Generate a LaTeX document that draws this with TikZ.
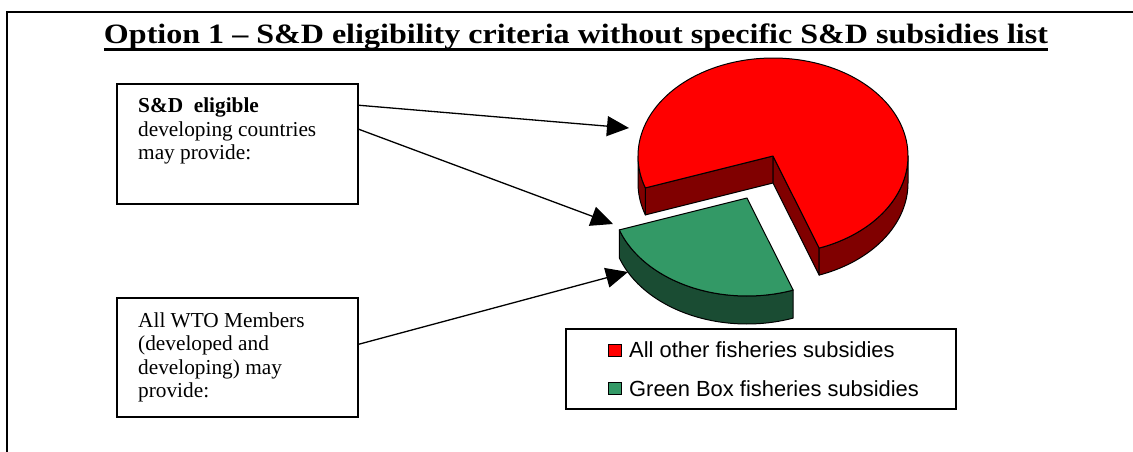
\documentclass[tikz,border=0pt]{standalone}
\usepackage{fontspec}
\setmainfont{Liberation Serif}
\newfontfamily\arialf{Liberation Sans}
\usetikzlibrary{arrows.meta}
\definecolor{pred}{HTML}{FF0000}
\definecolor{pdred}{HTML}{800000}
\definecolor{pgreen}{HTML}{339966}
\definecolor{pdgreen}{HTML}{1A4C33}
\begin{document}
\begin{tikzpicture}[x=1pt,y=-1pt,
  box/.style={draw=black, line width=1.5pt, fill=white, inner sep=0pt},
  txt/.style={anchor=base west, inner sep=0pt, font=\fontsize{21.3}{23.5}\selectfont},
  legtxt/.style={anchor=base west, inner sep=0pt, font=\arialf\fontsize{21.9}{24}\selectfont},
  sq/.style={draw=black, line width=1pt, minimum width=13pt, minimum height=12pt, inner sep=0pt},
  arr/.style={line width=1.3pt, -{Triangle[length=22pt,width=20pt]}},
  face/.style={draw=black, line width=1pt, line join=round}]
\useasboundingbox (0,0) rectangle (1133,452);
\fill[white] (0,0) rectangle (1133,452);
% outer frame
\draw[line width=2pt] (7,452) -- (7,12) -- (1133,12);
% title
\node[font=\bfseries\fontsize{28}{30}\selectfont, anchor=base, inner sep=0pt, xscale=1.145] (title) at (576,44)
  {Option 1 – S\&D eligibility criteria without specific S\&D subsidies list};
\draw[line width=3pt] ([yshift=-6pt]title.base west) -- ([yshift=-6pt]title.base east);
% boxes
\node[box, minimum width=241pt, minimum height=120pt] (b1) at (237.5,144) {};
\node[box, minimum width=241pt, minimum height=119pt] (b2) at (237.5,357.5) {};
\node[txt] (t1a) at (138,112) {\textbf{S\&D\ \ eligible}};
\node[txt] (t1b) at (138,136) {developing countries};
\node[txt] (t1c) at (138,159) {may provide:};
\node[txt] (t2a) at (138,327) {All WTO Members};
\node[txt] (t2b) at (138,350.5) {(developed and};
\node[txt] (t2c) at (138,374) {developing) may};
\node[txt] (t2d) at (138,397.5) {provide:};
% pie: red part
\def\rcx{773}\def\rcy{156}\def\rdep{27}
\filldraw[face, fill=pdred] (\rcx,\rcy) -- ({\rcx+135*cos(199)},{\rcy-98*sin(199)}) -- ++(0,\rdep) -- (\rcx,\rcy+\rdep) -- cycle;
\filldraw[face, fill=pdred] (\rcx,\rcy) -- ({\rcx+135*cos(-70)},{\rcy-98*sin(-70)}) -- ++(0,\rdep) -- (\rcx,\rcy+\rdep) -- cycle;
\filldraw[face, fill=pdred] plot[domain=-70:0, samples=40] ({\rcx+135*cos(\x)},{\rcy-98*sin(\x)})
  -- plot[domain=0:-70, samples=40] ({\rcx+135*cos(\x)},{\rcy+\rdep-98*sin(\x)}) -- cycle;
\filldraw[face, fill=pdred] plot[domain=180:199, samples=15] ({\rcx+135*cos(\x)},{\rcy-98*sin(\x)})
  -- plot[domain=199:180, samples=15] ({\rcx+135*cos(\x)},{\rcy+\rdep-98*sin(\x)}) -- cycle;
\filldraw[face, fill=pred] (\rcx,\rcy) -- plot[domain=-70:199, samples=120] ({\rcx+135*cos(\x)},{\rcy-98*sin(\x)}) -- cycle;
% pie: green part
\def\gcx{747}\def\gcy{198}\def\gdep{28}
\filldraw[face, fill=pdgreen] plot[domain=199:290, samples=60] ({\gcx+135*cos(\x)},{\gcy-98*sin(\x)})
  -- plot[domain=290:199, samples=60] ({\gcx+135*cos(\x)},{\gcy+\gdep-98*sin(\x)}) -- cycle;
\filldraw[face, fill=pgreen] (\gcx,\gcy) -- plot[domain=199:290, samples=60] ({\gcx+135*cos(\x)},{\gcy-98*sin(\x)}) -- cycle;
% arrow targets
\coordinate (a1) at (629,128);
\coordinate (a2) at (613,224);
\coordinate (a3) at (628,272);
\draw[arr] ([yshift=-22pt]b1.north east) -- (a1);
\draw[arr] ([yshift=-46pt]b1.north east) -- (a2);
\draw[arr] ([yshift=-47pt]b2.north east) -- (a3);
% legend
\node[box, minimum width=390pt, minimum height=80pt] (leg) at (761,369) {};
\node[sq, fill=pred] (s1) at (614.5,350) {};
\node[sq, fill=pgreen] (s2) at (614.5,388.5) {};
\node[legtxt] (l1) at (629,357) {All other fisheries subsidies};
\node[legtxt] (l2) at (629,396) {Green Box fisheries subsidies};
\end{tikzpicture}
\end{document}
